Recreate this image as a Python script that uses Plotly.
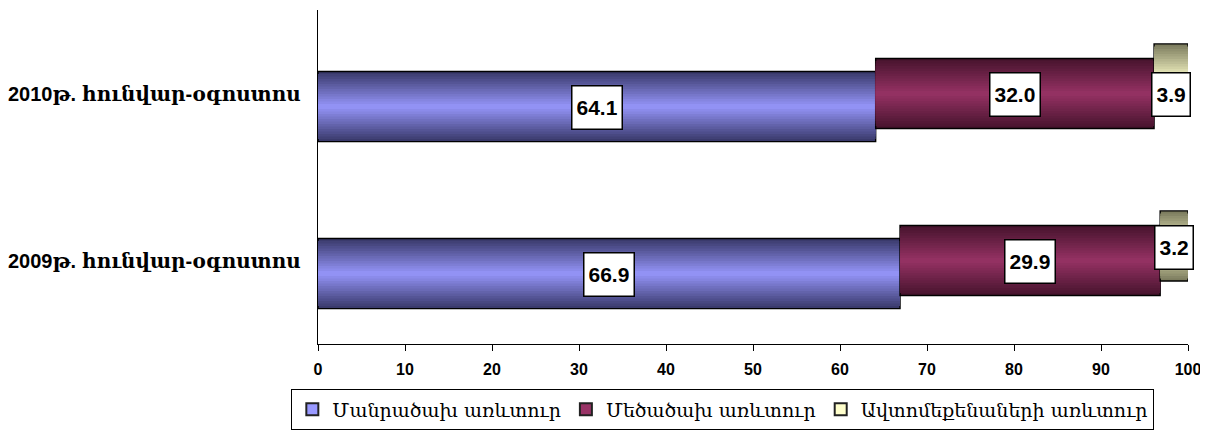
import plotly.graph_objects as go

# ---- data ----
categories = ["2009թ. հունվար-օգոստոս", "2010թ. հունվար-օգոստոս"]
series_names = ["Մանրածախ առևտուր", "Մեծածախ առևտուր", "Ավտոմեքենաների առևտուր"]
retail = [66.9, 64.1]
wholesale = [29.9, 32.0]
auto = [3.2, 3.9]
x_ticks = [0, 10, 20, 30, 40, 50, 60, 70, 80, 90, 100]

series_values = [retail, wholesale, auto]

# ---- styles ----
center_colors = [(153, 153, 255), (153, 51, 102), (255, 255, 204)]
edge_colors = [(58, 58, 108), (72, 20, 46), (125, 125, 95)]
legend_colors = ["#9999FF", "#993366", "#FFFFCC"]
depth_shift = [-0.078, 0.0, 0.087]     # pseudo-3D depth offset per series
bar_w = 0.42
n_layers = 14
label_yshift = [[-14, -14], [-1, -1], [13, -1]]


def lerp(c1, c2, t):
    return "rgb(%d,%d,%d)" % tuple(round(a + (b - a) * t) for a, b in zip(c1, c2))


fig = go.Figure()
bases = [0.0] * len(categories)
annotations = []
for s, vals in enumerate(series_values):
    for k in range(n_layers):
        t = k / n_layers
        w = bar_w * (1 - t)
        fig.add_trace(go.Bar(
            y=categories, x=vals, base=bases, orientation="h",
            width=w, offset=depth_shift[s] - w / 2,
            marker=dict(color=lerp(edge_colors[s], center_colors[s], t),
                        line=dict(color="black", width=1.4 if k == 0 else 0)),
            showlegend=False, hoverinfo="skip",
        ))
    for i, cat in enumerate(categories):
        annotations.append(dict(
            x=bases[i] + vals[i] / 2, y=cat, xref="x", yref="y",
            text="<b>%.1f</b>" % vals[i], showarrow=False,
            font=dict(family="Liberation Sans, Arial", size=21, color="black"),
            bgcolor="white", bordercolor="black", borderwidth=1.5, borderpad=4,
            height=34, yshift=label_yshift[s][i],
        ))
    bases = [b + v for b, v in zip(bases, vals)]

for s, name in enumerate(series_names):
    fig.add_trace(go.Bar(
        x=[None], y=[None], orientation="h", name=name,
        marker=dict(color=legend_colors[s], line=dict(color="#222222", width=1.2)),
    ))

# page body has an 8px margin; the sizes below compensate for it
fig.update_layout(
    width=1200, height=424,
    margin=dict(l=310, r=20, t=2, b=88, autoexpand=False),
    paper_bgcolor="white", plot_bgcolor="white",
    barmode="overlay",
    annotations=annotations,
    xaxis=dict(range=[0, 100], tickvals=x_ticks, ticks="outside", ticklen=6,
               tickwidth=1.3, tickcolor="black", showline=True, linecolor="black",
               linewidth=1.3, showgrid=False, zeroline=False, ticklabelstandoff=5,
               tickfont=dict(family="Liberation Sans, Arial", size=16, color="black", weight="bold")),
    yaxis=dict(type="category", categoryorder="array", categoryarray=categories,
               range=[-0.5, 1.5], showline=True, linecolor="black", linewidth=1.3,
               ticks="", showgrid=False, ticklabelstandoff=12,
               tickfont=dict(family="Liberation Sans, DejaVu Serif", size=20, color="black", weight="bold")),
    legend=dict(orientation="h", x=-0.031, xanchor="left", y=-0.135, yanchor="top",
                bordercolor="black", borderwidth=1.3, bgcolor="white",
                font=dict(family="DejaVu Serif", size=19, color="black"),
                itemsizing="constant", traceorder="normal"),
    showlegend=True,
)

fig.write_html("out.html")
